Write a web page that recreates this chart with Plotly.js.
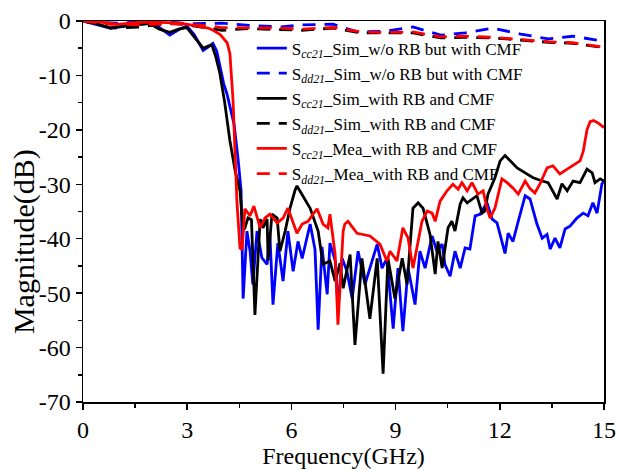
<!DOCTYPE html>
<html>
<head>
<meta charset="utf-8">
<script src="https://cdn.plot.ly/plotly-3.0.1.min.js"></script>
<style>html,body{margin:0;padding:0;background:#fff;}#chart{width:618px;height:470px;}</style>
</head>
<body>
<div id="chart"></div>
<script>
// ---- Data ----
const seriesNames = [
  "S<sub><i>cc21</i></sub>_Sim_w/o RB but with CMF",
  "S<sub><i>dd21</i></sub>_Sim_w/o RB but with CMF",
  "S<sub><i>cc21</i></sub>_Sim_with RB and CMF",
  "S<sub><i>dd21</i></sub>_Sim_with RB and CMF",
  "S<sub><i>cc21</i></sub>_Mea_with RB and CMF",
  "S<sub><i>dd21</i></sub>_Mea_with RB and CMF"
];

// Scc21 Sim w/o RB (blue solid)
const blueSolidFreq = [0,0.4,0.78,1.3,1.93,2.2,2.5,2.75,2.99,3.2,3.46,3.6,3.74,3.85,3.94,4.05,4.15,4.23,4.35,4.46,4.55,4.61,4.66,4.72,4.81,4.89,5.01,5.15,5.30,5.38,5.47,5.61,5.76,5.90,6.05,6.19,6.31,6.45,6.54,6.68,6.77,6.88,7.03,7.11,7.26,7.34,7.46,7.60,7.75,7.92,8.12,8.26,8.47,8.61,8.75,8.93,9.07,9.21,9.36,9.56,9.70,9.85,10.05,10.19,10.34,10.42,10.57,10.71,10.86,11.00,11.14,11.29,11.43,11.63,11.78,11.92,12.01,12.15,12.24,12.38,12.53,12.73,12.87,13.07,13.22,13.36,13.45,13.59,13.73,13.88,14.02,14.22,14.40,14.54,14.68,14.80,14.94,15];
const blueSolidMag  = [0,-0.6,-1.3,-0.9,-0.4,-1.2,-2.6,-1.6,-0.9,-2.5,-5.4,-4.8,-4.1,-5.5,-8.0,-11.5,-13.5,-15.9,-19,-25.1,-31,-51.0,-44,-38.6,-42.3,-48.4,-38.6,-43.5,-44.7,-39.2,-52.1,-40.8,-47.8,-38.6,-46.0,-40.5,-43.6,-39.9,-37.3,-42.0,-56.7,-41.5,-50.2,-40.8,-44.0,-52.5,-43.6,-46.0,-51.0,-42.3,-48.4,-45.4,-41.0,-45.4,-43.6,-56.5,-45.4,-57.0,-45.4,-52.1,-42.3,-45.4,-39.5,-42.3,-41.0,-44.7,-46.9,-42.3,-45.4,-41.7,-41.9,-35.8,-35.5,-33.4,-36.4,-37.1,-39.5,-42.7,-39.0,-40.5,-36.8,-32.1,-32.7,-37.3,-39.9,-39.2,-41.9,-39.9,-41.7,-38.2,-37.7,-36.2,-35.3,-35.8,-33.4,-35.3,-29.9,-29.4];

// Sdd21 Sim w/o RB (blue dashed)
const blueDashFreq = [0,0.5,1.0,1.6,2.0,2.5,3.0,3.5,4.0,4.8,5.7,6.3,7.2,7.9,8.7,9.5,10.3,11.0,11.8,12.6,13.4,14.1,14.8,15];
const blueDashMag  = [0,-0.3,-0.4,-0.2,-0.3,-0.2,-0.5,-0.5,-0.4,-0.8,-1.1,-0.7,-0.6,-2.0,-1.9,-1.1,-2.6,-2.2,-1.3,-2.4,-3.3,-2.8,-3.5,-4.4];

// Scc21 Sim with RB (black solid)
const blackSolidFreq = [0,0.4,0.78,1.3,1.93,2.2,2.5,2.75,2.99,3.2,3.46,3.6,3.71,3.82,3.94,4.08,4.23,4.38,4.52,4.61,4.66,4.75,4.85,4.95,5.10,5.18,5.30,5.33,5.44,5.59,5.67,5.82,5.96,6.10,6.16,6.54,6.77,6.91,7.11,7.26,7.40,7.49,7.69,7.83,8.03,8.26,8.47,8.64,8.78,8.98,9.19,9.33,9.50,9.65,9.79,9.99,10.14,10.22,10.34,10.51,10.62,10.71,10.86,10.94,11.06,11.34,11.49,11.57,11.66,11.86,12.01,12.15,12.29,12.50,12.73,12.96,13.22,13.39,13.65,13.79,13.94,14.11,14.31,14.51,14.66,14.74,14.89,15];
const blackSolidMag  = [0,-0.5,-1.3,-0.8,-0.5,-1.5,-2.1,-1.5,-1.2,-3.0,-5.0,-4.6,-4.4,-6.5,-9.6,-15,-22.0,-27.5,-31.2,-38.5,-38.0,-36.2,-36.5,-54.0,-36.4,-38.0,-36.4,-44.0,-35.5,-36.2,-42.3,-38.6,-34.4,-31.2,-30.3,-34.4,-38.6,-44.7,-44.1,-47.8,-44.5,-49.1,-42.9,-59.5,-43.6,-54.7,-43.6,-64.8,-43.6,-51.0,-43.6,-48.4,-34.4,-33.4,-34.4,-39.2,-46.5,-40.5,-45.4,-38.0,-36.8,-38.6,-33.6,-32.5,-33.4,-32.1,-35.3,-34.9,-31.8,-28.8,-25.7,-24.7,-25.7,-27.0,-27.9,-28.8,-29.4,-29.7,-32.7,-29.9,-31.2,-29.4,-29.7,-27.2,-27.9,-29.7,-29.0,-29.4];

// Sdd21 Sim with RB (black dashed)
const blackDashFreq = [0,0.5,0.8,1.6,2.5,3.0,3.5,4.0,4.8,5.7,6.3,7.2,8.0,8.7,9.5,10.3,11.0,11.8,12.6,13.4,14.1,14.9,15];
const blackDashMag  = [0,-0.6,-1.3,-1.1,-0.4,-0.7,-1.2,-1.7,-1.4,-1.5,-1.7,-1.3,-2.2,-2.2,-2.2,-3.1,-3.0,-3.1,-3.5,-3.9,-4.1,-4.8,-4.9];

// Scc21 Mea with RB (red solid)
const redSolidFreq = [0,0.5,1.0,1.5,2.0,2.5,2.8,3.1,3.37,3.6,3.75,3.95,4.15,4.23,4.32,4.38,4.43,4.52,4.58,4.66,4.81,4.92,5.10,5.24,5.38,5.59,5.76,5.90,6.16,6.31,6.48,6.62,6.74,6.91,7.05,7.11,7.26,7.34,7.49,7.54,7.63,7.89,8.26,8.55,8.75,8.84,9.04,9.21,9.36,9.50,9.76,9.91,10.05,10.14,10.28,10.48,10.65,10.80,10.91,11.06,11.20,11.37,11.52,11.63,11.72,11.86,12.06,12.21,12.38,12.53,12.73,12.87,13.01,13.16,13.36,13.53,13.73,13.94,14.17,14.31,14.40,14.51,14.60,14.70,14.85,15];
const redSolidMag  = [0,-0.2,-0.6,-0.3,-0.2,-0.4,-0.4,-0.7,-1.0,-1.3,-1.7,-2.5,-4.0,-6.0,-14.6,-24,-33.0,-41.7,-42.0,-34.5,-35.8,-34.0,-38.0,-36.2,-35.5,-37.1,-36.2,-34.4,-39.0,-37.3,-36.8,-35.5,-34.5,-37.3,-38.0,-35.5,-42.9,-55.8,-38.6,-37.3,-36.8,-39.0,-39.5,-41.0,-44.1,-42.3,-44.1,-38.0,-39.9,-45.4,-36.8,-34.9,-35.3,-36.8,-33.1,-31.2,-30.0,-30.9,-29.7,-31.2,-29.7,-31.8,-31.2,-34.4,-36.2,-34.4,-29.0,-29.7,-30.7,-31.8,-29.4,-30.8,-31.6,-29.9,-27.0,-26.6,-28.1,-27.2,-26.2,-25.7,-24.0,-20.0,-18.5,-18.3,-18.8,-19.6];

// Sdd21 Mea with RB (red dashed)
const redDashFreq = [0,0.5,0.8,1.6,2.5,3.0,3.5,4.0,4.8,5.7,6.3,7.2,8.0,8.7,9.5,10.3,11.0,11.8,12.6,13.4,14.1,14.9,15];
const redDashMag  = [0,-0.3,-0.6,-0.7,-0.5,-0.6,-0.8,-1.2,-1.2,-1.3,-1.5,-1.2,-2.0,-2.1,-2.0,-2.9,-2.8,-3.0,-3.4,-3.8,-4.0,-4.7,-4.8];

const xTickVals = [0,3,6,9,12,15];
const yTickVals = [0,-10,-20,-30,-40,-50,-60,-70];
const xTitle = 'Frequency(GHz)';
const yTitle = 'Magnitude(dB)';

// ---- Traces ----
const blue = '#0000ff', black = '#000000', red = '#ff0000';
const lw = 2.8;
const dashStyle = '13px,9px';
function tr(x, y, name, color, dash, grp) {
  return {x: x, y: y, name: name, type: 'scatter', mode: 'lines',
          legendgroup: grp,
          line: {color: color, width: lw, dash: dash}};
}
const data = [
  tr(blueSolidFreq, blueSolidMag, seriesNames[0], blue, 'solid', 'g1'),
  tr(blueDashFreq, blueDashMag, seriesNames[1], blue, dashStyle, 'g2'),
  tr(blackSolidFreq, blackSolidMag, seriesNames[2], black, 'solid', 'g3'),
  tr(blackDashFreq, blackDashMag, seriesNames[3], black, dashStyle, 'g4'),
  tr(redSolidFreq, redSolidMag, seriesNames[4], red, 'solid', 'g5'),
  tr(redDashFreq, redDashMag, seriesNames[5], red, dashStyle, 'g6')
];

const fontFam = '"Liberation Serif", "Times New Roman", serif';
const layout = {
  width: 618, height: 470,
  margin: {l: 83, r: 14, t: 21, b: 68},
  paper_bgcolor: '#fff', plot_bgcolor: '#fff',
  font: {family: fontFam, color: '#000', size: 20},
  showlegend: true,
  legend: {
    x: 0.324, y: 0.975, xanchor: 'left', yanchor: 'top',
    bgcolor: 'rgba(0,0,0,0)', borderwidth: 0,
    font: {family: fontFam, size: 17, color: '#000'},
    traceorder: 'grouped', tracegroupgap: 0
  },
  xaxis: {
    range: [0, 15], tickvals: xTickVals, ticktext: xTickVals.map(String),
    ticks: 'outside', ticklen: 6, tickwidth: 1.5, tickcolor: '#000',
    minor: {dtick: 1.5, ticks: 'outside', ticklen: 4, tickwidth: 1.5, tickcolor: '#000', tick0: 0},
    showline: true, linecolor: '#000', linewidth: 1.5, mirror: true,
    showgrid: false, zeroline: false,
    tickfont: {family: fontFam, size: 24, color: '#000'},
    title: {text: xTitle, font: {family: fontFam, size: 24, color: '#000'}, standoff: 4}
  },
  yaxis: {
    range: [-70, 0], tickvals: yTickVals, ticktext: yTickVals.map(String),
    ticks: 'outside', ticklen: 6, tickwidth: 1.5, tickcolor: '#000',
    minor: {dtick: 5, ticks: 'outside', ticklen: 4, tickwidth: 1.5, tickcolor: '#000', tick0: 0},
    showline: true, linecolor: '#000', linewidth: 1.5, mirror: true,
    showgrid: false, zeroline: false,
    tickfont: {family: fontFam, size: 24, color: '#000'}
  },
  annotations: [{
    text: yTitle, textangle: -90, showarrow: false,
    xref: 'paper', yref: 'paper', x: -0.113, y: 0.42,
    xanchor: 'center', yanchor: 'middle',
    font: {family: fontFam, size: 30, color: '#000'}
  }]
};

Plotly.newPlot('chart', data, layout, {displayModeBar: false, staticPlot: true});
</script>
</body>
</html>
